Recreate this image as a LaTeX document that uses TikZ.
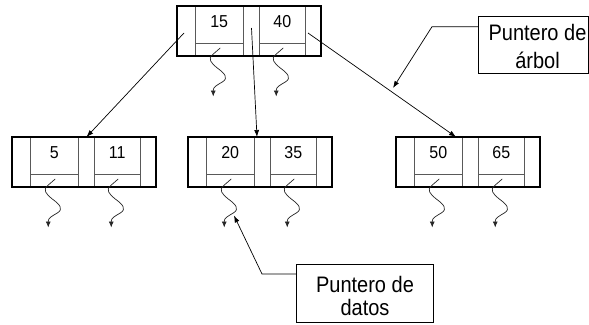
\documentclass[tikz,border=0pt]{standalone}
\usepackage{fontspec}
\setmainfont{Liberation Sans}
\usepackage{graphicx}
\usetikzlibrary{arrows.meta}

% slightly tall lettering
\newcommand\tallkey[1]{\scalebox{1}[1.08]{#1}}
\newcommand\tallline[1]{\scalebox{1}[1.12]{#1}}

\tikzset{
  cellbase/.style={draw=black!65, line width=0.9pt, minimum height=50pt,
    inner sep=0pt, outer sep=0pt, anchor=north west},
  ptrcell/.style={cellbase, minimum width=16pt},
  firstptr/.style={cellbase, minimum width=18pt},
  keyone/.style={cellbase, minimum width=48.5pt},
  keytwo/.style={cellbase, minimum width=45.5pt},
  nodeframe/.style={draw=black, line width=2pt},
  keydivider/.style={draw=black!65, line width=0.9pt},
  keytext/.style={font=\fontsize{16}{19}\selectfont, inner sep=0pt},
  treeptr/.style={draw=black, line width=0.7pt, -{Latex[length=7pt,width=5pt]}},
  dataptr/.style={draw=black!85, line width=0.7pt, -{Latex[length=6pt,width=5pt]}},
  labelbox/.style={draw=black, line width=0.8pt, inner sep=0pt, outer sep=0pt},
  labeltext/.style={font=\fontsize{20}{23}\selectfont, align=center, inner sep=0pt},
  labelptr/.style={draw=black, line width=0.7pt, -{Latex[length=7pt,width=5pt]}},
  datalink/.pic={
    \draw[dataptr] (0,0) -- (-7.5,6.5)
      .. controls (-13,11) and (-9,15) .. (-3,20)
      .. controls (4,25) and (9,30) .. (2,34)
      .. controls (-3,37) and (-7,39) .. (-7,42) -- (-7,48.5);
  }
}

% one B-tree node: name, left x, top y, first key, second key
\newcommand\btreenode[5]{%
  \node[firstptr] (#1-p1) at (#2,#3) {};
  \node[keyone]   (#1-k1) at (#1-p1.north east) {};
  \node[ptrcell]  (#1-p2) at (#1-k1.north east) {};
  \node[keytwo]   (#1-k2) at (#1-p2.north east) {};
  \node[ptrcell]  (#1-p3) at (#1-k2.north east) {};
  \draw[keydivider] ([yshift=12.5pt]#1-k1.south west) -- ([yshift=12.5pt]#1-k1.south east);
  \draw[keydivider] ([yshift=12.5pt]#1-k2.south west) -- ([yshift=12.5pt]#1-k2.south east);
  \node[keytext] (#1-t1) at ([yshift=-16pt]#1-k1.north) {\tallkey{#4}};
  \node[keytext] (#1-t2) at ([yshift=-16pt]#1-k2.north) {\tallkey{#5}};
  \draw[nodeframe] (#1-p1.north west) rectangle (#1-p3.south east);
  \pic at ([xshift=1pt,yshift=8pt]#1-k1.south) {datalink};
  \pic at ([xshift=1pt,yshift=8pt]#1-k2.south) {datalink};
}

\begin{document}
\begin{tikzpicture}[x=1pt,y=-1pt]
  \useasboundingbox (0,0) rectangle (589,324);

  % nodes of the tree
  \btreenode{T}{177}{6}{15}{40}
  \btreenode{L}{12}{137}{5}{11}
  \btreenode{M}{188}{137}{20}{35}
  \btreenode{R}{396}{137}{50}{65}

  % tree pointers
  \draw[treeptr] ([xshift=-2pt,yshift=-2pt]T-p1.center) -- (L-p2.north);
  \draw[treeptr] ([yshift=3pt]T-p2.center) -- ([xshift=2.5pt]M-p2.north west);
  \draw[treeptr] ([xshift=-5pt,yshift=-2pt]T-p3.center) -- ([xshift=-6.5pt]R-k1.north east);

  % label for tree pointers
  \node[labelbox, minimum width=110pt, minimum height=57pt] (tbox) at (533,44.5) {};
  \node[labeltext] (ttext) at (537.5,46.5)
    {\tallline{Puntero de}\\[4.7pt]\tallline{árbol}};
  \coordinate (ttip) at (393,88);
  \draw[labelptr] ([yshift=17.8pt]tbox.west) -- ++(-46,0) -- (ttip);

  % label for data pointers
  \node[labelbox, minimum width=137pt, minimum height=58pt] (dbox) at (364.5,293) {};
  \node[labeltext] (dtext) at (365,295.5)
    {\tallline{Puntero de}\\\tallline{datos}};
  \coordinate (dtip) at (234,215.5);
  \draw[labelptr] ([yshift=19pt]dbox.west) -- ++(-34,0) -- (dtip);
\end{tikzpicture}
\end{document}
